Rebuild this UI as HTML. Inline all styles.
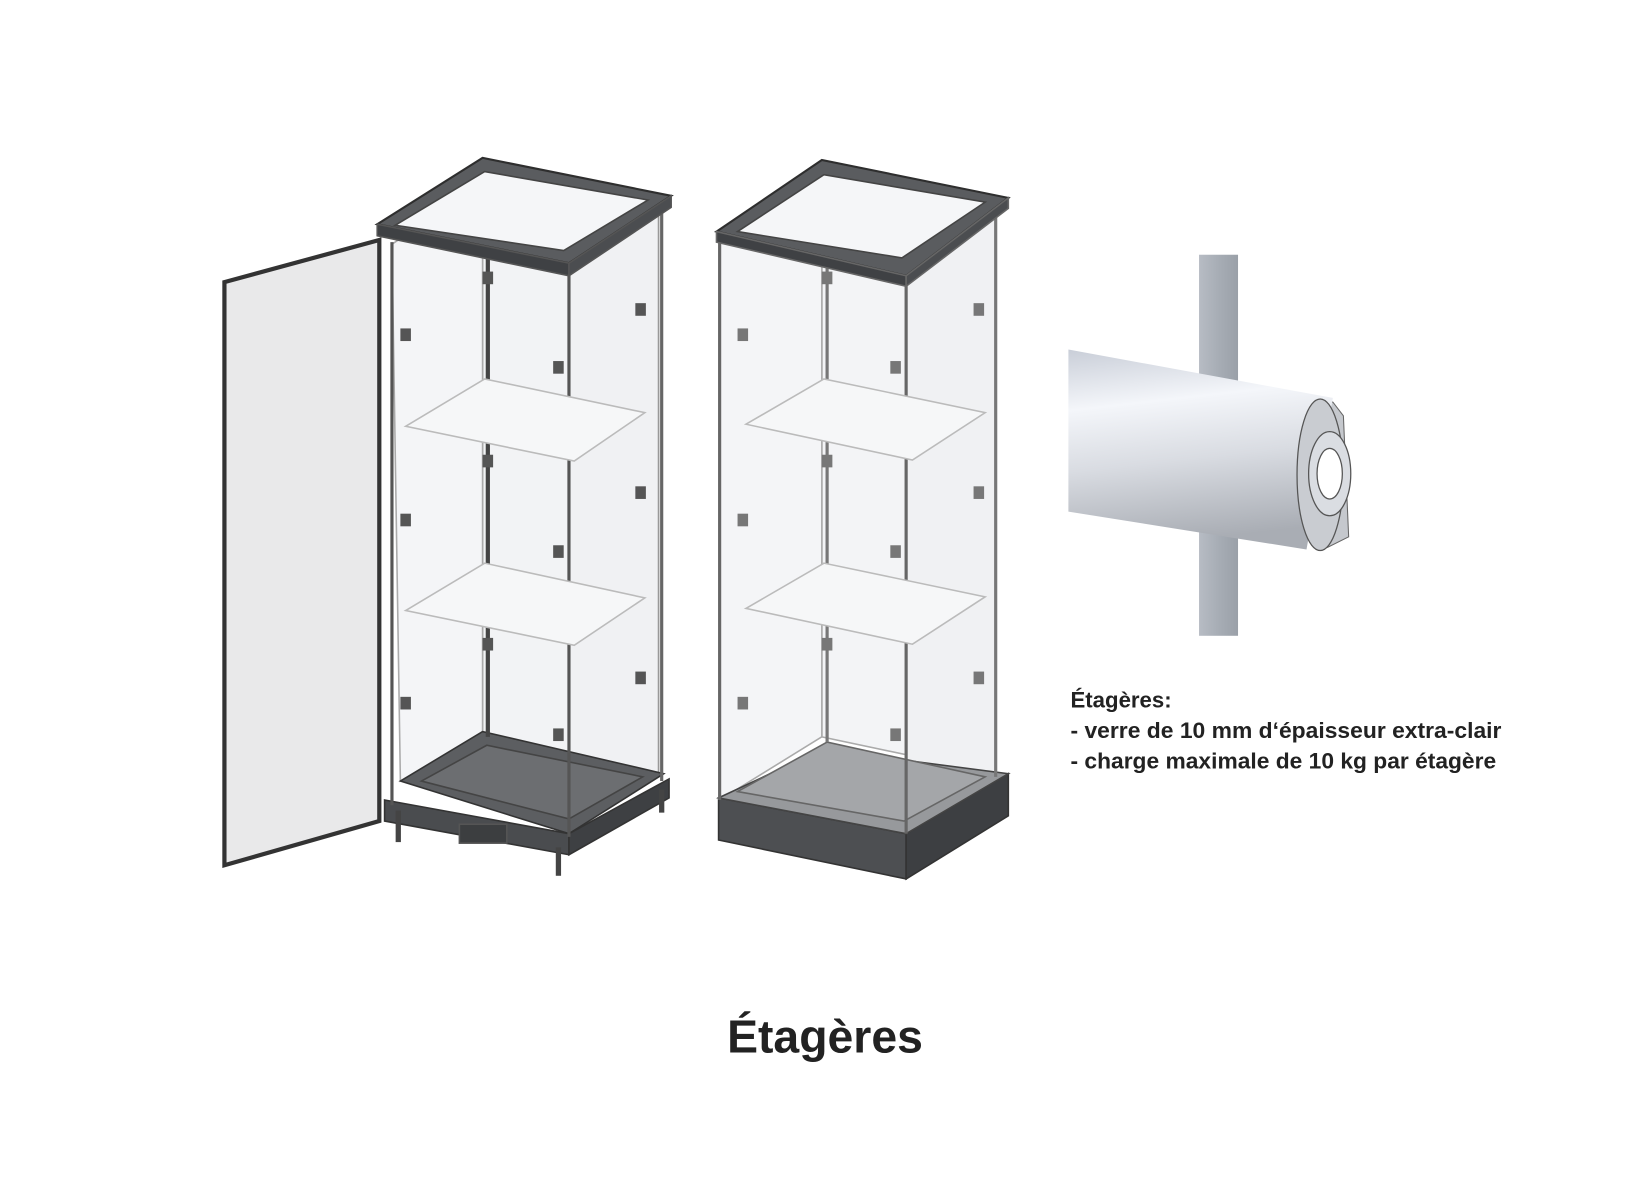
<!DOCTYPE html>
<html><head><meta charset="utf-8"><style>
html,body{margin:0;padding:0;background:#fff;}
svg{display:block;}
text{font-family:"Liberation Sans",sans-serif;}
</style></head><body>
<svg width="1650" height="1200" viewBox="0 0 1566 1140" preserveAspectRatio="none" xmlns="http://www.w3.org/2000/svg">
<defs>
<linearGradient id="cyl" x1="0" y1="0" x2="0.15" y2="1">
<stop offset="0" stop-color="#c9ced8"/><stop offset="0.3" stop-color="#f4f6fa"/><stop offset="0.6" stop-color="#d9dce2"/><stop offset="1" stop-color="#a9adb4"/>
</linearGradient>
<linearGradient id="rod" x1="0" x2="1"><stop offset="0" stop-color="#b7bcc4"/><stop offset="0.5" stop-color="#a7adb5"/><stop offset="1" stop-color="#9aa0a8"/></linearGradient>
</defs>
<rect width="1566" height="1140" fill="#fff"/>

<!-- LEFT CABINET -->
<g stroke="#555" stroke-width="1.5">
<polygon points="213,268 360,228 360,780 213,822" fill="#e9e9ea" stroke="#333" stroke-width="4"/>
<polygon points="458,175 625,200 625,735 458,700" fill="#f2f3f5" stroke="#999"/>
<polygon points="372,232 458,175 458,700 380,742" fill="#f4f5f7" stroke="#aaa"/>
<polygon points="540,262 625,200 625,735 540,790" fill="#f0f1f3" stroke="#999"/>
<polygon points="380,742 458,695 630,735 540,792" fill="#5c5e61" stroke="#333"/>
<polygon points="400,742 462,708 610,738 540,778" fill="#6c6e71" stroke="#444"/>
<polygon points="365,760 540,792 540,812 365,780" fill="#4a4c4f" stroke="#333"/>
<polygon points="540,792 635,740 635,758 540,812" fill="#3e4043" stroke="#333"/>
<rect x="436" y="783" width="45" height="18" fill="#3c3e40"/>
<line x1="378" y1="770" x2="378" y2="800" stroke="#444" stroke-width="5"/>
<line x1="530" y1="805" x2="530" y2="832" stroke="#444" stroke-width="5"/>
<line x1="628" y1="750" x2="628" y2="772" stroke="#444" stroke-width="5"/>
<line x1="372" y1="230" x2="372" y2="765" stroke="#555" stroke-width="3"/>
<line x1="540" y1="258" x2="540" y2="795" stroke="#555" stroke-width="3"/>
<line x1="628" y1="198" x2="628" y2="742" stroke="#666" stroke-width="3"/>
<line x1="463" y1="175" x2="463" y2="700" stroke="#444" stroke-width="4"/>
<polygon points="385,405 460,360 612,392 545,438" fill="#f6f7f8" stroke="#bbb"/>
<polygon points="385,580 460,535 612,568 545,613" fill="#f6f7f8" stroke="#bbb"/>
<polygon points="358,213 458,150 637,186 540,250" fill="#5a5c5f" stroke="#2e2e2e" stroke-width="2"/>
<polygon points="375,214 460,163 615,190 535,238" fill="#f5f6f8" stroke="#444"/>
<polygon points="358,213 540,250 540,262 358,224" fill="#3f4144"/>
<polygon points="540,250 637,186 637,197 540,262" fill="#4b4d50"/>
</g>
<g fill="#555">
<rect x="380" y="312" width="10" height="12"/><rect x="380" y="488" width="10" height="12"/><rect x="380" y="662" width="10" height="12"/>
<rect x="525" y="343" width="10" height="12"/><rect x="525" y="518" width="10" height="12"/><rect x="525" y="692" width="10" height="12"/>
<rect x="603" y="288" width="10" height="12"/><rect x="603" y="462" width="10" height="12"/><rect x="603" y="638" width="10" height="12"/>
<rect x="458" y="258" width="10" height="12"/><rect x="458" y="432" width="10" height="12"/><rect x="458" y="606" width="10" height="12"/>
</g>

<!-- RIGHT CABINET -->
<g stroke="#666" stroke-width="1.5">
<polygon points="780,175 945,200 945,735 780,700" fill="#f3f4f6" stroke="#aaa"/>
<polygon points="683,228 780,175 780,700 683,760" fill="#f4f5f7" stroke="#aaa"/>
<polygon points="860,262 945,200 945,735 860,790" fill="#f0f1f3" stroke="#aaa"/>
<polygon points="682,758 860,792 860,835 682,798" fill="#4d4f52" stroke="#333"/>
<polygon points="860,792 957,735 957,775 860,835" fill="#3d3f42" stroke="#333"/>
<polygon points="682,758 780,712 957,735 860,792" fill="#97999c" stroke="#444"/>
<polygon points="700,752 785,705 935,738 858,780" fill="#a4a6a9" stroke="#666"/>
<line x1="683" y1="228" x2="683" y2="760" stroke="#666" stroke-width="3"/>
<line x1="860" y1="262" x2="860" y2="792" stroke="#666" stroke-width="3"/>
<line x1="945" y1="198" x2="945" y2="738" stroke="#777" stroke-width="3"/>
<line x1="785" y1="175" x2="785" y2="705" stroke="#777" stroke-width="3"/>
<polygon points="708,403 782,360 935,392 866,437" fill="#f6f7f8" stroke="#bbb"/>
<polygon points="708,578 782,535 935,567 866,612" fill="#f6f7f8" stroke="#bbb"/>
<polygon points="680,220 780,152 957,188 860,262" fill="#5a5c5f" stroke="#2e2e2e" stroke-width="2"/>
<polygon points="700,220 782,166 935,192 856,245" fill="#f5f6f8" stroke="#444"/>
<polygon points="680,220 860,262 860,272 680,230" fill="#3f4144"/>
<polygon points="860,262 957,188 957,198 860,272" fill="#4b4d50"/>
</g>
<g fill="#777">
<rect x="700" y="312" width="10" height="12"/><rect x="700" y="488" width="10" height="12"/><rect x="700" y="662" width="10" height="12"/>
<rect x="845" y="343" width="10" height="12"/><rect x="845" y="518" width="10" height="12"/><rect x="845" y="692" width="10" height="12"/>
<rect x="924" y="288" width="10" height="12"/><rect x="924" y="462" width="10" height="12"/><rect x="924" y="638" width="10" height="12"/>
<rect x="780" y="258" width="10" height="12"/><rect x="780" y="432" width="10" height="12"/><rect x="780" y="606" width="10" height="12"/>
</g>

<!-- ROD DETAIL -->
<rect x="1138" y="242" width="37" height="362" fill="url(#rod)"/>
<polygon points="1130,375 1175,370 1265,382 1275,395 1280,510 1260,520" fill="#c5c8cd" stroke="#666" stroke-width="1"/>
<polygon points="1014,332 1265,378 1240,522 1014,486" fill="url(#cyl)"/>
<ellipse cx="1253" cy="451" rx="22" ry="72" fill="#c9ccd1" stroke="#555" stroke-width="1.2"/>
<ellipse cx="1262" cy="450" rx="20" ry="40" fill="#dadde2" stroke="#555" stroke-width="1.2"/>
<ellipse cx="1262" cy="450" rx="12" ry="24" fill="#fff" stroke="#555" stroke-width="1.2"/>

<!-- TEXT -->
<g fill="#222" font-weight="bold" font-size="21">
<text x="1016" y="672" textLength="96" lengthAdjust="spacingAndGlyphs">Étagères:</text>
<text x="1016" y="701" textLength="409" lengthAdjust="spacingAndGlyphs">- verre de 10 mm d‘épaisseur extra-clair</text>
<text x="1016" y="730" textLength="404" lengthAdjust="spacingAndGlyphs">- charge maximale de 10 kg par étagère</text>
</g>
<text x="783" y="1000" text-anchor="middle" fill="#222" font-weight="bold" font-size="44">Étagères</text>
</svg>
</body></html>
